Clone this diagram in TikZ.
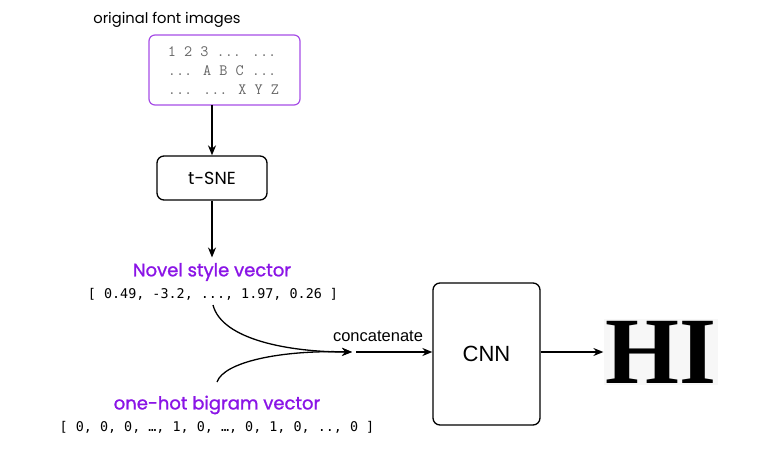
\documentclass[tikz,border=0pt]{standalone}
\usepackage{fontspec}
\setmainfont{Liberation Sans}
\newfontfamily\uifont{Poppins}
\newfontfamily\uimed[FakeBold=1.2]{Poppins}
\newfontfamily\vecmono{DejaVu Sans Mono}
\newfontfamily\hiserif{Liberation Serif}
\usetikzlibrary{arrows.meta}
\definecolor{vio}{HTML}{8A14E6}
\definecolor{boxvio}{HTML}{A64DE6}
\definecolor{txtgray}{HTML}{666666}
\tikzset{
  px/.style={x=1pt,y=-1pt},
  arr/.style={-{Stealth[length=10pt,width=8pt]},line width=1.3pt},
  rbox/.style={draw,line width=1.3pt,rounded corners=7pt},
  vlabel/.style={text=vio,font=\uimed\fontsize{18}{21}\selectfont},
  vecline/.style={font=\vecmono\fontsize{13.4}{16}\selectfont},
}
\begin{document}
\begin{tikzpicture}[px]
\useasboundingbox (0,0) rectangle (780,452);
\node[font=\uifont\fontsize{14.7}{17}\selectfont] (title) at (167,20) {original font images};
\draw[boxvio,line width=1.2pt,rounded corners=6pt] (149,35) rectangle (300,105);
\node[font=\ttfamily\fontsize{15.8}{19}\selectfont,text=txtgray,align=left] (chars) at (223.5,71)
  {1 2 3 ... ...\\... A B C ...\\... ... X Y Z};
\coordinate (fbbot) at (212,105);
\node[rbox,minimum width=110pt,minimum height=44pt,font=\uifont\fontsize{17.5}{20}\selectfont] (tsne) at (212,178) {t-SNE};
\draw[arr] (fbbot) -- (tsne.north);
\node[vlabel] (novel) at (212,272) {Novel style vector};
\draw[arr] (tsne.south) -- ([yshift=2pt]novel.north);
\node[vecline] (novvec) at (213,294) {[ 0.49, -3.2, ..., 1.97, 0.26 ]};
\node[vlabel] (onehot) at (217,405) {one-hot bigram vector};
\node[vecline] (ohvec) at (217,427) {[ 0, 0, 0, …, 1, 0, …, 0, 1, 0, .., 0 ]};
\coordinate (ns) at (213,305);
\coordinate (os) at (217,382);
\coordinate (m) at (352,352);
\coordinate (m2) at (356,352);
\draw[arr] (ns) .. controls (222,340) and (290,352) .. (m);
\draw[arr] (os) .. controls (224,362) and (280,350) .. (m);
\node[rbox,minimum width=107pt,minimum height=142pt,font=\fontsize{22}{26}\selectfont] (cnn) at (486.5,354) {CNN};
\node[font=\fontsize{16.5}{19}\selectfont] (concat) at (378,336) {concatenate};
\draw[arr] (m2) -- (cnn.west |- m2);
\node[fill=black!3,inner sep=2pt,font=\hiserif\bfseries\fontsize{95}{97}\selectfont] (hi) at (661,352) {HI};
\draw[arr] (cnn.east |- m2) -- (hi.west |- m2);
\end{tikzpicture}
\end{document}
